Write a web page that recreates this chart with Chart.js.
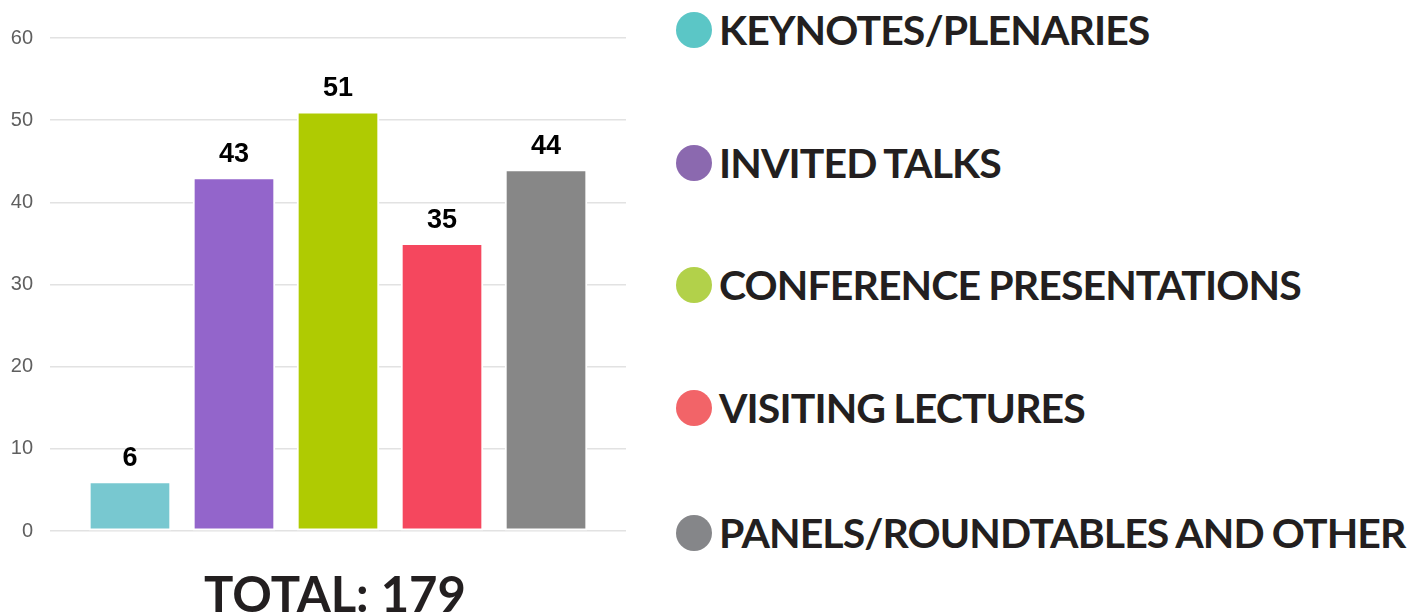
<!DOCTYPE html>
<html>
<head>
<meta charset="utf-8">
<script src="https://cdn.jsdelivr.net/npm/chart.js@4.4.1/dist/chart.umd.min.js"></script>
<style>
  html, body { margin: 0; padding: 0; background: #fff; width: 1408px; height: 615px; overflow: hidden; }
  #wrap { position: relative; width: 1408px; height: 615px; }
  #chart { position: absolute; left: 0; top: 0; }
  .legend-item { position: absolute; left: 676px; height: 40px; display: flex; align-items: center; white-space: nowrap; }
  .dot { width: 36px; height: 36px; border-radius: 50%; margin-right: 7px; flex: none; }
  .legend-text { font-family: Lato, "Open Sans", sans-serif; font-weight: 700; font-size: 41px; letter-spacing: -0.9px; word-spacing: -1px; color: #231f20; line-height: 40px; }
  #total { position: absolute; left: 0; width: 670px; top: 563px; text-align: center; font-family: Lato, "Open Sans", sans-serif; font-weight: 700; font-size: 49px; line-height: 60px; color: #231f20; }
</style>
</head>
<body>
<div id="wrap">
  <canvas id="chart" width="676" height="560"></canvas>
  <div id="legend"></div>
  <div id="total"></div>
</div>
<script>
const categories = ["KEYNOTES/PLENARIES", "INVITED TALKS", "CONFERENCE PRESENTATIONS", "VISITING LECTURES", "PANELS/ROUNDTABLES AND OTHER"];
const values = [6, 43, 51, 35, 44];
const barColors = ["#78C8D0", "#9365CB", "#AFCB02", "#F5475E", "#878787"];
const legendColors = ["#5BC6C6", "#8B69AF", "#B2D14A", "#F26468", "#858689"];
const yTicks = [0, 10, 20, 30, 40, 50, 60];

const legendCenters = [30, 163, 285, 408, 533];
const legend = document.getElementById('legend');
categories.forEach((c, i) => {
  const item = document.createElement('div');
  item.className = 'legend-item';
  item.style.top = (legendCenters[i] - 20) + 'px';
  const dot = document.createElement('div');
  dot.className = 'dot';
  dot.style.background = legendColors[i];
  const t = document.createElement('span');
  t.className = 'legend-text';
  t.textContent = c;
  item.appendChild(dot);
  item.appendChild(t);
  legend.appendChild(item);
});

const total = values.reduce((a, b) => a + b, 0);
document.getElementById('total').textContent = 'TOTAL: ' + total;

const valueLabels = {
  id: 'valueLabels',
  afterDatasetsDraw(chart) {
    const ctx = chart.ctx;
    const meta = chart.getDatasetMeta(0);
    ctx.save();
    ctx.font = 'bold 27px "Liberation Sans", Arial, sans-serif';
    ctx.fillStyle = '#000';
    ctx.textAlign = 'center';
    ctx.textBaseline = 'middle';
    meta.data.forEach((bar, i) => {
      ctx.fillText(String(values[i]), bar.x, bar.y - 23);
    });
    ctx.restore();
  }
};

new Chart(document.getElementById('chart'), {
  type: 'bar',
  data: {
    labels: categories,
    datasets: [{
      data: values.map((v, i) => ({ x: i, y: v })),
      backgroundColor: barColors,
      borderColor: '#ffffff',
      borderWidth: 2,
      borderSkipped: false,
      barThickness: 82
    }]
  },
  options: {
    responsive: false,
    animation: false,
    layout: { padding: { top: 38, bottom: 29, right: 50, left: 0 } },
    plugins: { legend: { display: false }, tooltip: { enabled: false } },
    scales: {
      x: {
        type: 'linear',
        min: -0.769,
        max: 4.769,
        offset: false,
        grid: { offset: false },
        ticks: { stepSize: 1 },
        display: false
      },
      y: {
        min: 0,
        max: 60,
        afterFit(scale) { scale.width = 50; },
        afterBuildTicks(scale) { scale.ticks = yTicks.map(v => ({ value: v })); },
        border: { display: false },
        grid: { color: '#e2e2e2', lineWidth: 1.5, drawTicks: false },
        ticks: {
          padding: 17,
          color: '#5f5f5f',
          font: { family: '"Liberation Sans", Arial, sans-serif', size: 20 }
        }
      }
    }
  },
  plugins: [valueLabels]
});
</script>
</body>
</html>
